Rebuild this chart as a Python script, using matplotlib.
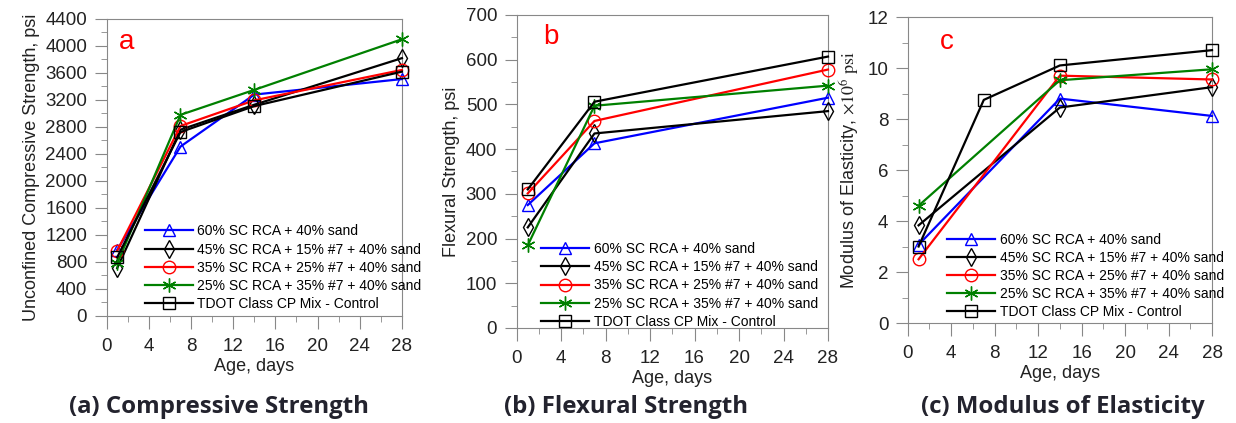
import numpy as np
import matplotlib
matplotlib.use("Agg")
from matplotlib import pyplot as plt
from matplotlib.ticker import MultipleLocator

plt.rcParams['font.family'] = ['Liberation Sans', 'DejaVu Sans']
plt.rcParams['mathtext.fontset'] = 'stix'

labels = ["60% SC RCA + 40% sand",
          "45% SC RCA + 15% #7 + 40% sand",
          "35% SC RCA + 25% #7 + 40% sand",
          "25% SC RCA + 35% #7 + 40% sand",
          "TDOT Class CP Mix - Control"]

# (a) compressive strength, psi
days_a = [1, 7, 14, 28]
comp_60 = [980, 2510, 3280, 3510]
comp_45 = [710, 2760, 3130, 3820]
comp_35 = [965, 2815, 3195, 3645]
comp_25 = [780, 2980, 3350, 4100]
comp_ctl = [870, 2725, 3110, 3620]

# (b) flexural strength, psi
days_b = [1, 7, 28]
flex_60 = [275, 413, 515]
flex_45 = [225, 435, 485]
flex_35 = [301, 463, 578]
flex_25 = [185, 497, 542]
flex_ctl = [310, 506, 607]

# (c) modulus of elasticity, x10^6 psi
days_c = [1, 14, 28]
days_c_ctl = [1, 7, 14, 28]
mod_60 = [3.07, 8.8, 8.12]
mod_45 = [3.83, 8.45, 9.25]
mod_35 = [2.5, 9.7, 9.55]
mod_25 = [4.6, 9.52, 9.95]
mod_ctl = [3.0, 8.75, 10.1, 10.7]

colors = ["#0000ff", "black", "#ff0000", "#008000", "black"]
markers = ["^", "d", "o", (6, 2, 0), "s"]

fig = plt.figure(figsize=(12.36, 4.23), dpi=100)
ax_a = fig.add_axes([0.0863, 0.2530, 0.2389, 0.7021])
ax_b = fig.add_axes([0.4180, 0.2246, 0.2519, 0.7400])
ax_c = fig.add_axes([0.7344, 0.2364, 0.2462, 0.7234])

panels = [
    (ax_a, [days_a] * 5, [comp_60, comp_45, comp_35, comp_25, comp_ctl],
     (0, 4400), 400, 200, "Unconfined Compressive Strength, psi", "a",
     (0.11, -0.002), (0.068, 0.922)),
    (ax_b, [days_b] * 5, [flex_60, flex_45, flex_35, flex_25, flex_ctl],
     (0, 700), 100, 50, "Flexural Strength, psi", "b",
     (0.06, -0.02), (0.11, 0.93)),
    (ax_c, [days_c] * 4 + [days_c_ctl], [mod_60, mod_45, mod_35, mod_25, mod_ctl],
     (0, 12), 2, 1, r"Modulus of Elasticity, $\times10^{6}$ $\mathrm{psi}$", "c",
     (0.11, -0.006), (0.128, 0.918)),
]

for ax, xs, ys, ylim, ymaj, ymin, ylab, letter, legpos, letpos in panels:
    for i in range(5):
        ax.plot(xs[i], ys[i], color=colors[i], lw=1.6, marker=markers[i],
                ms=9 if i != 3 else 10, mfc="none", mec=colors[i], mew=1.0,
                label=labels[i], clip_on=False, zorder=3)
    ax.set_xlim(0, 28)
    ax.set_ylim(*ylim)
    ax.xaxis.set_major_locator(MultipleLocator(4))
    ax.xaxis.set_minor_locator(MultipleLocator(2))
    ax.yaxis.set_major_locator(MultipleLocator(ymaj))
    ax.yaxis.set_minor_locator(MultipleLocator(ymin))
    for s in ax.spines.values():
        s.set_color("#888888")
    ax.tick_params(which="major", direction="out", length=9, color="#888888",
                   labelsize=13.5, labelcolor="#222222", pad=5)
    ax.tick_params(axis="x", which="major", pad=7)
    ax.tick_params(which="minor", direction="out", length=4.5, color="#888888")
    ax.set_xlabel("Age, days", fontsize=13, color="#222222", labelpad=2)
    ax.set_ylabel(ylab, fontsize=13, color="#222222", labelpad=4)
    ax.text(letpos[0], letpos[1], letter, transform=ax.transAxes,
            color="#ff0000", fontsize=20, va="center", ha="center")
    ax.legend(loc="lower left", bbox_to_anchor=legpos, frameon=False,
              fontsize=10, handlelength=3.5, handletextpad=0.3,
              labelspacing=0.3, borderaxespad=0.0, numpoints=1)

captions = ["(a) Compressive Strength", "(b) Flexural Strength",
            "(c) Modulus of Elasticity"]
cap_x = [219, 626, 1063]
for cx, cap in zip(cap_x, captions):
    fig.text(cx / 1236, 1 - 407 / 423, cap, ha="center", va="center",
             fontsize=17.3, fontweight="bold", color="#23232e",
             family=["Open Sans", "DejaVu Sans"])

fig.savefig("out.png", dpi=100)
